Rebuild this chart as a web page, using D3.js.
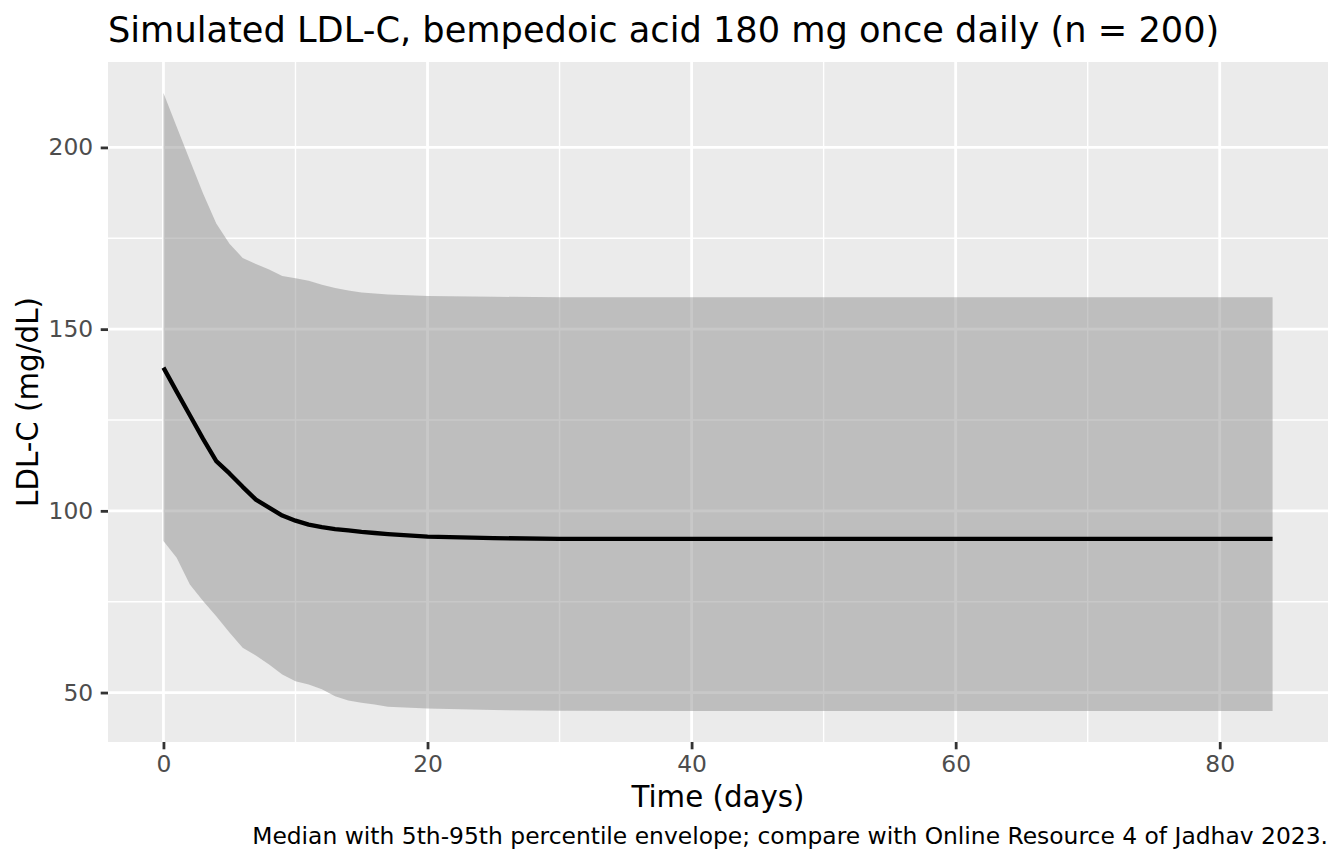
<!DOCTYPE html>
<html><head><meta charset="utf-8">
<script src="https://cdn.jsdelivr.net/npm/d3@7"></script>
<style>html,body{margin:0;padding:0;background:#fff;}svg{display:block;font-family:"DejaVu Sans",sans-serif;}</style>
</head><body>
<svg id="chart" width="1344" height="864"></svg>
<script>
const titleText = "Simulated LDL-C, bempedoic acid 180 mg once daily (n = 200)";
const xTitle = "Time (days)";
const yTitle = "LDL-C (mg/dL)";
const captionText = "Median with 5th-95th percentile envelope; compare with Online Resource 4 of Jadhav 2023.";

const days   = [0,1,2,3,4,5,6,7,8,9,10,11,12,13,14,15,16,17,20,25,30,40,50,60,70,84];
const median = [139.4,132.8,126.3,119.8,113.7,110.3,106.6,103.1,100.9,98.7,97.3,96.2,95.5,95.0,94.6,94.2,93.9,93.6,92.9,92.5,92.3,92.3,92.3,92.3,92.3,92.3];
const p05    = [91.7,87.1,79.7,75.2,71.0,66.5,62.3,60.2,57.7,55.0,53.1,52.2,50.9,49.0,47.8,47.2,46.7,46.1,45.6,45.2,45.0,44.9,44.9,44.9,44.9,44.9];
const p95    = [215.0,205.7,196.5,187.3,179.1,173.5,169.6,167.9,166.4,164.6,164.0,163.3,162.2,161.3,160.6,160.1,159.8,159.5,159.1,158.9,158.8,158.8,158.8,158.8,158.8,158.8];
const xTicks = [0,20,40,60,80];
const xMinor = [10,30,50,70];
const yTicks = [50,100,150,200];
const yMinor = [75,125,175];

const rows = days.map((d,i)=>({t:d, med:median[i], lo:p05[i], hi:p95[i]}));

const svg = d3.select("#chart");
const P = {l:108, r:1328, t:62, b:742};

const xMin = d3.min(days), xMax = d3.max(days);
const xPad = (xMax-xMin)*0.05;
const yLo = d3.min(p05), yHi = d3.max(p95);
const yPad = (yHi-yLo)*0.05;
const x = d3.scaleLinear().domain([xMin-xPad, xMax+xPad]).range([P.l, P.r]);
const y = d3.scaleLinear().domain([yLo-yPad, yHi+yPad]).range([P.b, P.t]);

svg.append("rect").attr("x",P.l).attr("y",P.t).attr("width",P.r-P.l).attr("height",P.b-P.t).attr("fill","#EBEBEB");

const g = svg.append("g");
g.selectAll(".xmin").data(xMinor).join("line").attr("x1",d=>x(d)).attr("x2",d=>x(d)).attr("y1",P.t).attr("y2",P.b).attr("stroke","#fff").attr("stroke-width",1.4);
g.selectAll(".ymin").data(yMinor).join("line").attr("y1",d=>y(d)).attr("y2",d=>y(d)).attr("x1",P.l).attr("x2",P.r).attr("stroke","#fff").attr("stroke-width",1.4);
g.selectAll(".xmaj").data(xTicks).join("line").attr("x1",d=>x(d)).attr("x2",d=>x(d)).attr("y1",P.t).attr("y2",P.b).attr("stroke","#fff").attr("stroke-width",2.8);
g.selectAll(".ymaj").data(yTicks).join("line").attr("y1",d=>y(d)).attr("y2",d=>y(d)).attr("x1",P.l).attr("x2",P.r).attr("stroke","#fff").attr("stroke-width",2.8);

const area = d3.area().x(d=>x(d.t)).y0(d=>y(d.lo)).y1(d=>y(d.hi));
svg.append("path").datum(rows).attr("d",area).attr("fill","#919191").attr("fill-opacity",0.5);

const line = d3.line().x(d=>x(d.t)).y(d=>y(d.med));
svg.append("path").datum(rows).attr("d",line).attr("fill","none").attr("stroke","#000").attr("stroke-width",4.3).attr("stroke-linejoin","round");

// axes
const xAxis = d3.axisBottom(x).tickValues(xTicks).tickSize(7.3).tickPadding(6.5).tickFormat(d3.format("d"));
const xg = svg.append("g").attr("transform",`translate(0,${P.b})`).call(xAxis);
const yAxis = d3.axisLeft(y).tickValues(yTicks).tickSize(7.3).tickPadding(7.5).tickFormat(d3.format("d"));
const yg = svg.append("g").attr("transform",`translate(${P.l},0)`).call(yAxis);
[xg,yg].forEach(a=>{
  a.select(".domain").remove();
  a.selectAll(".tick line").attr("stroke","#333333").attr("stroke-width",2.8);
  a.selectAll(".tick text").attr("fill","#4D4D4D").style("font-size","23.4px").style("font-family","DejaVu Sans");
});

svg.append("text").attr("x",P.l).attr("y",41.7).text(titleText).attr("fill","#000").style("font-size","35.2px");
svg.append("text").attr("x",(P.l+P.r)/2).attr("y",807).attr("text-anchor","middle").text(xTitle).attr("fill","#000").style("font-size","29.3px");
svg.append("text").attr("transform",`translate(38,${(P.t+P.b)/2}) rotate(-90)`).attr("text-anchor","middle").text(yTitle).attr("fill","#000").style("font-size","29.3px");
svg.append("text").attr("x",P.r).attr("y",844).attr("text-anchor","end").text(captionText).attr("fill","#000").style("font-size","23.4px");
</script>
</body></html>
